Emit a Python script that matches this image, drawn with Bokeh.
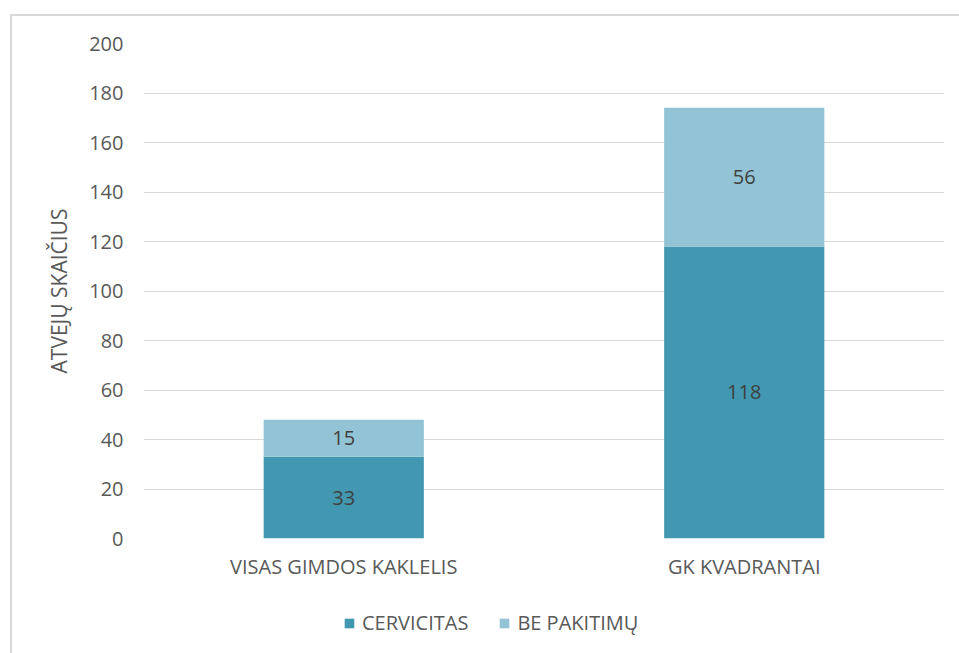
from bokeh.plotting import figure
from bokeh.layouts import column
from bokeh.models import FixedTicker, Legend, LegendItem, ColumnDataSource
from bokeh.embed import file_html
from bokeh.resources import INLINE
from bokeh.core.properties import value

categories = ["VISAS GIMDOS KAKLELIS", "GK KVADRANTAI"]
series_names = ["CERVICITAS", "BE PAKITIMŲ"]
cervicitas = [33, 118]
be_pakitimu = [15, 56]
y_ticks = list(range(0, 201, 20))
colors = ["#4298B0", "#93C4D5"]

FONT = "Open Sans"
TXT = "#595959"
FS = "20px"

src = ColumnDataSource(dict(
    cat=categories,
    cerv=cervicitas,
    be=be_pakitimu,
))

p = figure(x_range=categories, y_range=(0, 200), frame_width=799, frame_height=493,
           output_backend="svg", toolbar_location=None,
           min_border_left=131, min_border_right=17, min_border_top=27, min_border_bottom=52)
p.styles = {"margin-left": "10px", "margin-top": "14px",
            "border-top": "2px solid #d9d9d9", "border-left": "2px solid #d9d9d9"}

r = p.vbar_stack(["cerv", "be"], x="cat", width=0.4, source=src, color=colors, line_color=None)

# labels
lab_cerv = ColumnDataSource(dict(cat=categories, y=[v / 2 for v in cervicitas],
                                 t=[str(v) for v in cervicitas]))
lab_be = ColumnDataSource(dict(cat=categories, y=[c + b / 2 for c, b in zip(cervicitas, be_pakitimu)],
                               t=[str(v) for v in be_pakitimu]))
for s in (lab_cerv, lab_be):
    p.text(x="cat", y="y", text="t", source=s, text_align="center", text_baseline="middle",
           text_font=value(FONT), text_font_size=FS, text_color="#404040")

p.outline_line_color = None
p.background_fill_color = "white"
p.border_fill_color = "white"
p.xgrid.grid_line_color = None
p.ygrid.grid_line_color = "#d9d9d9"
p.ygrid.grid_line_width = 1
p.yaxis.ticker = FixedTicker(ticks=y_ticks)
for ax in (p.xaxis[0], p.yaxis[0]):
    ax.axis_line_color = None
    ax.major_tick_line_color = None
    ax.minor_tick_line_color = None
    ax.major_tick_out = 0
    ax.major_tick_in = 0
    ax.major_label_text_font = FONT
    ax.major_label_text_color = TXT
    ax.major_label_text_font_size = FS
p.x_range.range_padding = 0
p.yaxis.major_label_standoff = 20
p.xaxis.major_label_standoff = 14
p.yaxis.axis_label = "ATVEJŲ SKAIČIUS"
p.yaxis.axis_label_text_font = FONT
p.yaxis.axis_label_text_font_style = "normal"
p.yaxis.axis_label_text_font_size = "21px"
p.yaxis.axis_label_text_color = TXT
p.yaxis.axis_label_standoff = 13

# legend strip below the chart (same series, drawn outside its visible range)
p2 = figure(x_range=categories, y_range=(1000, 1001), frame_width=947, frame_height=65,
            output_backend="svg", toolbar_location=None,
            min_border_left=0, min_border_right=0, min_border_top=0, min_border_bottom=0)
p2.styles = {"margin-left": "10px", "border-left": "2px solid #d9d9d9"}
p2.axis.visible = False
p2.grid.visible = False
p2.outline_line_color = None
p2.background_fill_color = "white"
p2.border_fill_color = "white"
leg_r = p2.vbar_stack(["cerv", "be"], x="cat", width=0.4, source=src, color=colors, line_color=None)

legend = Legend(items=[LegendItem(label=series_names[i], renderers=[leg_r[i]]) for i in range(2)],
                orientation="horizontal", location=(331, 17), nrows=1, ncols=2,
                glyph_width=12, glyph_height=12, label_standoff=7, spacing=30,
                label_text_font=FONT, label_text_font_size=FS, label_text_color=TXT,
                border_line_color=None, background_fill_alpha=0, margin=0, padding=0)
p2.add_layout(legend)

layout = column(p, p2, spacing=0)
open("out.html", "w").write(file_html(layout, INLINE))
